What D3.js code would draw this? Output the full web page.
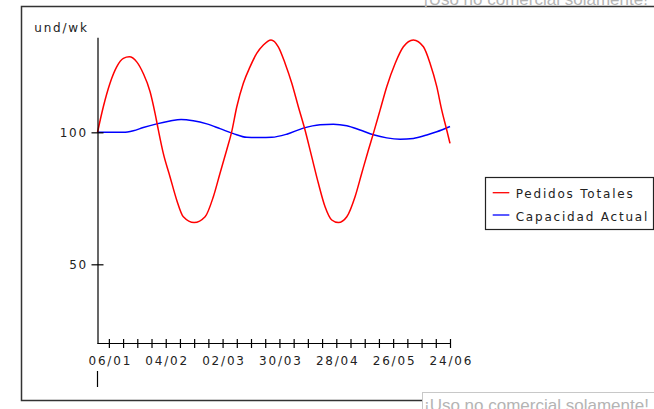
<!DOCTYPE html>
<html>
<head>
<meta charset="utf-8">
<script src="https://cdn.jsdelivr.net/npm/d3@7"></script>
<style>
  html, body { margin: 0; padding: 0; background: #fff; }
  svg { display: block; }
  .lbl { font-family: Verdana, "DejaVu Sans", sans-serif; font-size: 12px; letter-spacing: 1.8px; fill: #222; }
  .wm { font-family: Arial, "Liberation Sans", sans-serif; font-size: 17px; fill: #b4b4b4; }
</style>
</head>
<body>
<svg id="chart" width="654" height="409"></svg>
<script>
// Simulation time in weeks; tick 0 is the first labelled date
const dateLabels = ["06/01", "04/02", "02/03", "30/03", "28/04", "26/05", "24/06"];
const yTicks = [50, 100];
const unitsLabel = "und/wk";
const seriesNames = ["Pedidos Totales", "Capacidad Actual"];
const watermark = "\u00A1Uso no comercial solamente!";

// Pedidos Totales (und/wk)
const weeksPedidos = [-0.8, -0.39, 0.08, 0.55, 1.02, 1.44, 1.96, 2.42, 2.9, 3.25, 3.48, 3.83, 4.3, 4.77, 5.24, 6.0,
  6.77, 7.35, 7.82, 8.29, 8.64, 9.0, 9.46, 9.93, 10.4, 10.87, 11.41, 11.92, 12.4, 12.87, 13.33, 13.8, 14.27,
  14.74, 15.21, 15.68, 16.15, 16.74, 17.32, 17.79, 18.26, 18.61, 19.08, 19.55, 20.14, 20.72, 21.42, 22.13,
  22.6, 23.07, 23.42, 23.77, 24.0];
const pedidos = [100, 109.7, 118.6, 124.8, 128.0, 128.6, 126.7, 122.3, 115.4, 107.2, 100.9, 92.0, 83.2, 74.4, 68.0, 65.8,
  68.0, 75.6, 84.5, 93.3, 100.2, 109.7, 118.6, 124.8, 129.9, 133.1, 135.0, 132.4, 126.1, 118.6, 109.7, 100.9, 90.8,
  80.7, 71.8, 66.8, 65.8, 68.0, 75.6, 84.5, 93.3, 99.6, 108.4, 117.3, 126.1, 132.4, 135.0, 132.4,
  126.1, 117.3, 108.4, 100.9, 95.8];

// Capacidad Actual (und/wk)
const weeksCapacidad = [-0.8, 1.02, 1.72, 2.42, 3.37, 4.3, 5.08, 5.94, 6.89, 7.82, 8.76, 9.7, 10.64, 11.46, 12.52,
  13.68, 14.86, 15.79, 16.74, 17.67, 18.61, 19.55, 20.49, 21.42, 22.37, 23.07, 24.0];
const capacidad = [100, 100, 100.6, 101.8, 103.2, 104.3, 104.9, 104.4, 103.2, 101.4, 99.5, 98.1, 98.0, 98.1, 99.3,
  101.6, 102.9, 103.1, 102.5, 100.9, 99.1, 97.9, 97.4, 97.7, 99.0, 100.2, 102.2];

const svg = d3.select("#chart");

// Outer frame
svg.append("rect")
  .attr("x", 21.5).attr("y", 6.5).attr("width", 650).attr("height", 394)
  .attr("fill", "none").attr("stroke", "#333").attr("stroke-width", 1.5);

const x = d3.scaleLinear().domain([-0.8, 24]).range([97.5, 450]);
const y = d3.scaleLinear().domain([20, 136]).range([343.5, 37.3]);

// Series
const line = d3.line().curve(d3.curveMonotoneX);
svg.append("path")
  .attr("d", line(weeksCapacidad.map((t, i) => [x(t), y(capacidad[i])])))
  .attr("fill", "none").attr("stroke", "#0000ff").attr("stroke-width", 1.5);
svg.append("path")
  .attr("d", line(weeksPedidos.map((t, i) => [x(t), y(pedidos[i])])))
  .attr("fill", "none").attr("stroke", "#ff0000").attr("stroke-width", 1.5);

// Y axis
const yAxis = svg.append("g").attr("transform", `translate(${x(-0.8)},0)`)
  .call(d3.axisLeft(y).tickValues(yTicks).tickSize(6).tickSizeOuter(0).tickPadding(4));
yAxis.attr("font-family", null).attr("font-size", null);
yAxis.select(".domain").attr("stroke", "#000").attr("stroke-width", 1.2);
yAxis.selectAll(".tick line").attr("x2", 6).attr("x1", -6).attr("stroke", "#000").attr("stroke-width", 1.2);
yAxis.selectAll(".tick text").attr("class", "lbl").attr("dy", "0.38em").attr("x", -9.5);

// X axis: weekly ticks, dates every four weeks
const xAxis = svg.append("g").attr("transform", `translate(0,${y(20)})`)
  .call(d3.axisBottom(x).tickValues(d3.range(0, 25)).tickSize(4.5).tickSizeOuter(0).tickPadding(8)
    .tickFormat(d => d % 4 === 0 ? dateLabels[d / 4] : ""));
xAxis.attr("font-family", null).attr("font-size", null);
xAxis.select(".domain").attr("d", `M${x(-0.8)},0H${x(24)}`).attr("stroke", "#000").attr("stroke-width", 1.2);
xAxis.selectAll(".tick line").attr("y1", -4.5).attr("stroke", "#000").attr("stroke-width", 1.2);
xAxis.selectAll(".tick text").attr("class", "lbl").attr("dy", "0.71em").attr("dx", "0.9");

// Time marker below the axis
svg.append("line")
  .attr("x1", x(-0.8)).attr("x2", x(-0.8)).attr("y1", 371).attr("y2", 387)
  .attr("stroke", "#000").attr("stroke-width", 1.2);

// Units label
svg.append("text").attr("class", "lbl").attr("x", 34.3).attr("y", 32.3).text(unitsLabel);

// Legend
const legend = svg.append("g");
legend.append("rect").attr("x", 485.5).attr("y", 177.5).attr("width", 168).attr("height", 52)
  .attr("fill", "#fff").attr("stroke", "#222").attr("stroke-width", 1.2);
const colors = ["#ff0000", "#0000ff"];
seriesNames.forEach((name, i) => {
  const cy = 192.7 + i * 22.3;
  legend.append("line").attr("x1", 492.7).attr("x2", 509.3).attr("y1", cy).attr("y2", cy)
    .attr("stroke", colors[i]).attr("stroke-width", 1.3);
  legend.append("text").attr("class", "lbl").attr("x", 515.7).attr("y", cy + 5.5).text(name);
});

// Non-commercial notices
svg.append("text").attr("class", "wm").attr("x", 423).attr("y", 4.8).text(watermark);
svg.append("rect").attr("x", 422.5).attr("y", 392.5).attr("width", 240).attr("height", 30)
  .attr("fill", "#fff").attr("stroke", "#c8c8c8").attr("stroke-width", 1);
svg.append("text").attr("class", "wm").attr("x", 424).attr("y", 411).text(watermark);
</script>
</body>
</html>
